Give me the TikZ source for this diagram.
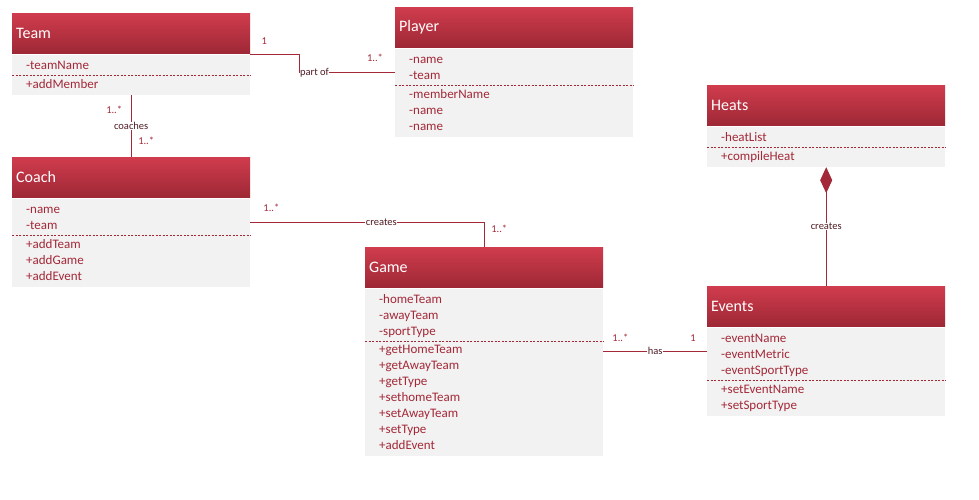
\documentclass[tikz,border=0pt]{standalone}
\usepackage{fontspec}
\setmainfont{Carlito}
\usetikzlibrary{arrows.meta}
\definecolor{umlred}{RGB}{163,40,56}
\definecolor{hdrtop}{RGB}{208,60,77}
\definecolor{hdrbot}{RGB}{158,40,54}
\definecolor{bodygray}{RGB}{242,242,242}
\definecolor{lbltext}{RGB}{80,28,36}
\begin{document}
\begin{tikzpicture}[x=1pt,y=-1pt,
  hdr/.style={anchor=north west, top color=hdrtop, bottom color=hdrbot, text=white,
    font=\fontsize{16}{19}\selectfont, minimum height=40pt, text width=230pt, inner xsep=4pt, align=left},
  cmp/.style={anchor=north, fill=bodygray, text=umlred, font=\fontsize{13}{16}\selectfont,
    minimum height=#1, text width=210pt, inner xsep=14pt, inner ysep=0pt, align=left},
  attrs/.style={cmp=#1, execute at begin node={\rule{0pt}{13.2pt}}, execute at end node=\strut},
  ops/.style={cmp=#1, execute at begin node=\strut, execute at end node={\rule[-5.8pt]{0pt}{0pt}}},
  sep/.style={umlred, dash pattern=on 2pt off 1.5pt, line width=0.8pt},
  link/.style={umlred, line width=1pt},
  lbl/.style={fill=white, text=lbltext, font=\fontsize{10.5}{12}\selectfont, inner sep=0.5pt},
  mult/.style={text=umlred, font=\fontsize{10.5}{12}\selectfont, inner sep=0pt}]
\fill[white] (0,0) rectangle (979,499);

\node[hdr] (team) at (12,13) {Team};
\node[attrs=21pt] (teamattr) at ([yshift=-1pt]team.south) {-teamName};
\node[ops=19pt] (teamops) at (teamattr.south) {+addMember};

\node[hdr] (player) at (395,7) {Player};
\node[attrs=37pt] (playerattr) at ([yshift=-1pt]player.south) {-name\\-team};
\node[ops=51pt] (playerops) at (playerattr.south) {-memberName\\-name\\-name};

\node[hdr] (coach) at (12,157) {Coach};
\node[attrs=37pt] (coachattr) at ([yshift=-1pt]coach.south) {-name\\-team};
\node[ops=51pt] (coachops) at (coachattr.south) {+addTeam\\+addGame\\+addEvent};

\node[hdr] (game) at (365,247) {Game};
\node[attrs=53pt] (gameattr) at ([yshift=-1pt]game.south) {-homeTeam\\-awayTeam\\-sportType};
\node[ops=114pt] (gameops) at (gameattr.south) {+getHomeTeam\\+getAwayTeam\\+getType\\+sethomeTeam\\+setAwayTeam\\+setType\\+addEvent};

\node[hdr] (heats) at (707,85) {Heats};
\node[attrs=21pt] (heatsattr) at ([yshift=-1pt]heats.south) {-heatList};
\node[ops=19pt] (heatsops) at (heatsattr.south) {+compileHeat};

\node[hdr] (events) at (707,286) {Events};
\node[attrs=53pt] (eventsattr) at ([yshift=-1pt]events.south) {-eventName\\-eventMetric\\-eventSportType};
\node[ops=35pt] (eventsops) at (eventsattr.south) {+setEventName\\+setSportType};

\foreach \cls in {team,player,coach,game,heats,events}
  \draw[sep] (\cls ops.north west) -- (\cls ops.north east);

\draw[link] (teamattr.north east) -- ++(49,0) -- ++(0,18) coordinate (partof) -- (partof -| playerattr.west);
\node[lbl, anchor=west] (partoflbl) at (partof) {part of};
\node[mult] (m1) at ([shift={(14,-13.5)}]teamattr.north east) {1};
\node[mult] (m2) at ([shift={(-20,-9)}]playerattr.west) {1..*};

\draw[link] (teamops.south) -- (coach.north) node[lbl, midway] (coacheslbl) {coaches};
\node[mult] (m3) at ([shift={(-17,14.5)}]teamops.south) {1..*};
\node[mult] (m4) at ([shift={(15,-16)}]coach.north) {1..*};

\draw[link] (game.north) |- ([yshift=-5pt]coachattr.east) node[lbl, pos=0.72] (createslbl) {creates};
\node[mult] (m5) at ([shift={(21,-9)}]coachattr.east) {1..*};
\node[mult] (m6) at ([shift={(15,-18)}]game.north) {1..*};

\coordinate (hasR) at ([yshift=3pt]eventsattr.west);
\draw[link] (hasR) -- (hasR -| gameops.east) coordinate (hasL) node[lbl, midway] (haslbl) {has};
\node[mult] (m7) at ([shift={(17,-13)}]hasL) {1..*};
\node[mult] (m8) at ([shift={(-14,-13)}]hasR) {1};

\draw[link, {Diamond[length=26pt,width=12pt]}-] (heatsops.south) -- (events.north) node[lbl, midway] (heatslbl) {creates};
\end{tikzpicture}
\end{document}
